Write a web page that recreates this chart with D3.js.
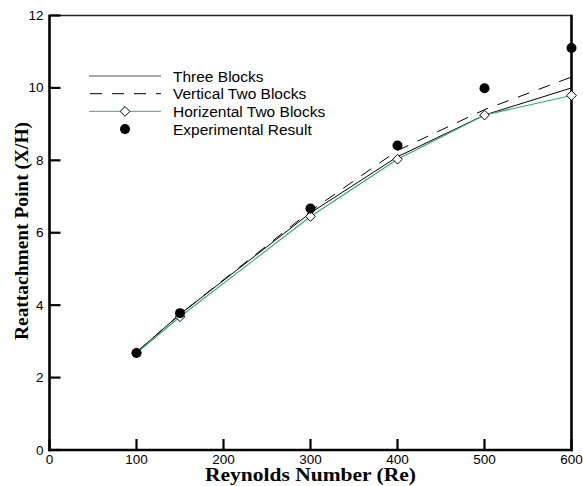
<!DOCTYPE html>
<html>
<head>
<meta charset="utf-8">
<script src="https://cdn.jsdelivr.net/npm/d3@7"></script>
<style>
  html, body { margin: 0; padding: 0; background: #fff; }
  svg { display: block; }
  .tick-label { font-family: Arial, "Liberation Sans", sans-serif; font-size: 13.5px; fill: #000; }
  .legend-text { font-family: Arial, "Liberation Sans", sans-serif; font-size: 15.5px; fill: #000; }
  .axis-title { font-family: "Times New Roman", "Liberation Serif", serif; font-weight: bold; font-size: 19px; fill: #000; }
</style>
</head>
<body>
<div id="chart"></div>
<script>
// Reynolds numbers where the cases were run
var reynolds = [100, 150, 300, 400, 500, 600];

// reattachment length X/H for each configuration
var threeBlocks = [2.70, 3.75, 6.55, 8.10, 9.25, 10.0];
var verticalTwoBlocks = [2.70, 3.75, 6.60, 8.27, 9.40, 10.30];
var horizontalTwoBlocks = [2.68, 3.68, 6.45, 8.03, 9.25, 9.79];
var experimental = [2.68, 3.78, 6.67, 8.41, 9.99, 11.1];

var xTicks = [0, 100, 200, 300, 400, 500, 600];
var yTicks = [0, 2, 4, 6, 8, 10, 12];

var legendLabels = ['Three Blocks', 'Vertical Two Blocks', 'Horizental Two Blocks', 'Experimental Result'];

(function () {
    'use strict';

    var width = 583, height = 486;
    var margin = { top: 15.5, right: 11.5, bottom: 36, left: 49.5 };
    var green = '#27ad68';

    var svg = d3.select('#chart').append('svg')
        .attr('width', width)
        .attr('height', height);

    var x = d3.scaleLinear().domain([0, 600]).range([margin.left, width - margin.right]);
    var y = d3.scaleLinear().domain([0, 12]).range([height - margin.bottom, margin.top]);

    // frame: heavy left/bottom/right, lighter top
    svg.append('line')
        .attr('x1', x(0)).attr('x2', x(600)).attr('y1', y(12)).attr('y2', y(12))
        .attr('stroke', '#222').attr('stroke-width', 1.6);
    svg.append('line')
        .attr('x1', x(0)).attr('x2', x(0)).attr('y1', y(12) - 0.8).attr('y2', y(0) + 1.2)
        .attr('stroke', '#000').attr('stroke-width', 2.6);
    svg.append('line')
        .attr('x1', x(600)).attr('x2', x(600)).attr('y1', y(12) - 0.8).attr('y2', y(0) + 1.2)
        .attr('stroke', '#000').attr('stroke-width', 2.6);
    svg.append('line')
        .attr('x1', x(0) - 1.3).attr('x2', x(600) + 1.3).attr('y1', y(0)).attr('y2', y(0))
        .attr('stroke', '#000').attr('stroke-width', 2.6);

    // inward ticks
    var tickLen = 11;
    svg.append('g').selectAll('line').data(xTicks).join('line')
        .attr('x1', function (d) { return x(d); })
        .attr('x2', function (d) { return x(d); })
        .attr('y1', y(0))
        .attr('y2', y(0) - tickLen)
        .attr('stroke', '#000').attr('stroke-width', 2.2);
    svg.append('g').selectAll('line').data(yTicks).join('line')
        .attr('x1', x(0))
        .attr('x2', x(0) + tickLen)
        .attr('y1', function (d) { return y(d); })
        .attr('y2', function (d) { return y(d); })
        .attr('stroke', '#000').attr('stroke-width', 2.2);

    svg.append('g').selectAll('text').data(xTicks).join('text')
        .attr('class', 'tick-label')
        .attr('x', function (d) { return x(d); })
        .attr('y', y(0) + 14)
        .attr('text-anchor', 'middle')
        .text(function (d) { return d; });
    svg.append('g').selectAll('text').data(yTicks).join('text')
        .attr('class', 'tick-label')
        .attr('x', x(0) - 6)
        .attr('y', function (d) { return y(d) + 4.5; })
        .attr('text-anchor', 'end')
        .text(function (d) { return d; });

    svg.append('text')
        .attr('class', 'axis-title')
        .attr('x', 205)
        .attr('y', 481)
        .attr('textLength', 211)
        .attr('lengthAdjust', 'spacingAndGlyphs')
        .text('Reynolds Number (Re)');
    svg.append('text')
        .attr('class', 'axis-title')
        .attr('transform', 'translate(28,340) rotate(-90)')
        .attr('textLength', 218)
        .attr('lengthAdjust', 'spacingAndGlyphs')
        .text('Reattachment Point (X/H)');

    var line = d3.line()
        .x(function (d) { return x(d[0]); })
        .y(function (d) { return y(d[1]); });

    function pairs(values) {
        return reynolds.map(function (re, i) { return [re, values[i]]; });
    }

    var plot = svg.append('g');

    plot.append('path')
        .datum(pairs(verticalTwoBlocks))
        .attr('d', line)
        .attr('fill', 'none')
        .attr('stroke', '#000')
        .attr('stroke-width', 1)
        .attr('stroke-dasharray', '12,10');

    plot.append('path')
        .datum(pairs(threeBlocks))
        .attr('d', line)
        .attr('fill', 'none')
        .attr('stroke', '#000')
        .attr('stroke-width', 1);

    plot.append('path')
        .datum(pairs(horizontalTwoBlocks))
        .attr('d', line)
        .attr('fill', 'none')
        .attr('stroke', green)
        .attr('stroke-width', 1.1);

    var diamond = d3.symbol().type(d3.symbolDiamond2).size(60);

    plot.selectAll('path.dia').data(pairs(horizontalTwoBlocks)).join('path')
        .attr('class', 'dia')
        .attr('d', diamond)
        .attr('transform', function (d) { return 'translate(' + x(d[0]) + ',' + y(d[1]) + ')'; })
        .attr('fill', '#fff')
        .attr('stroke', '#000')
        .attr('stroke-width', 1);

    plot.selectAll('circle').data(pairs(experimental)).join('circle')
        .attr('cx', function (d) { return x(d[0]); })
        .attr('cy', function (d) { return y(d[1]); })
        .attr('r', 5)
        .attr('fill', '#000');

    // legend
    var lg = svg.append('g');
    var lx1 = 89, lx2 = 161, ly0 = 76, lstep = 17.7;
    lg.append('line')
        .attr('x1', lx1).attr('x2', lx2).attr('y1', ly0).attr('y2', ly0)
        .attr('stroke', '#555').attr('stroke-width', 1);
    lg.append('line')
        .attr('x1', lx1).attr('x2', lx2).attr('y1', ly0 + lstep).attr('y2', ly0 + lstep)
        .attr('stroke', '#000').attr('stroke-width', 1)
        .attr('stroke-dasharray', '12,10').attr('stroke-dashoffset', -1);
    lg.append('line')
        .attr('x1', lx1).attr('x2', lx2).attr('y1', ly0 + 2 * lstep).attr('y2', ly0 + 2 * lstep)
        .attr('stroke', '#5cc08a').attr('stroke-width', 1.1);
    lg.append('path')
        .attr('d', diamond)
        .attr('transform', 'translate(125,' + (ly0 + 2 * lstep) + ')')
        .attr('fill', '#fff').attr('stroke', '#000').attr('stroke-width', 1);
    lg.append('circle')
        .attr('cx', 125).attr('cy', ly0 + 3 * lstep).attr('r', 5).attr('fill', '#000');

    lg.selectAll('text').data(legendLabels).join('text')
        .attr('class', 'legend-text')
        .attr('x', 173)
        .attr('y', function (d, i) { return ly0 + i * lstep + 5.5; })
        .text(function (d) { return d; });
})();
</script>
</body>
</html>
